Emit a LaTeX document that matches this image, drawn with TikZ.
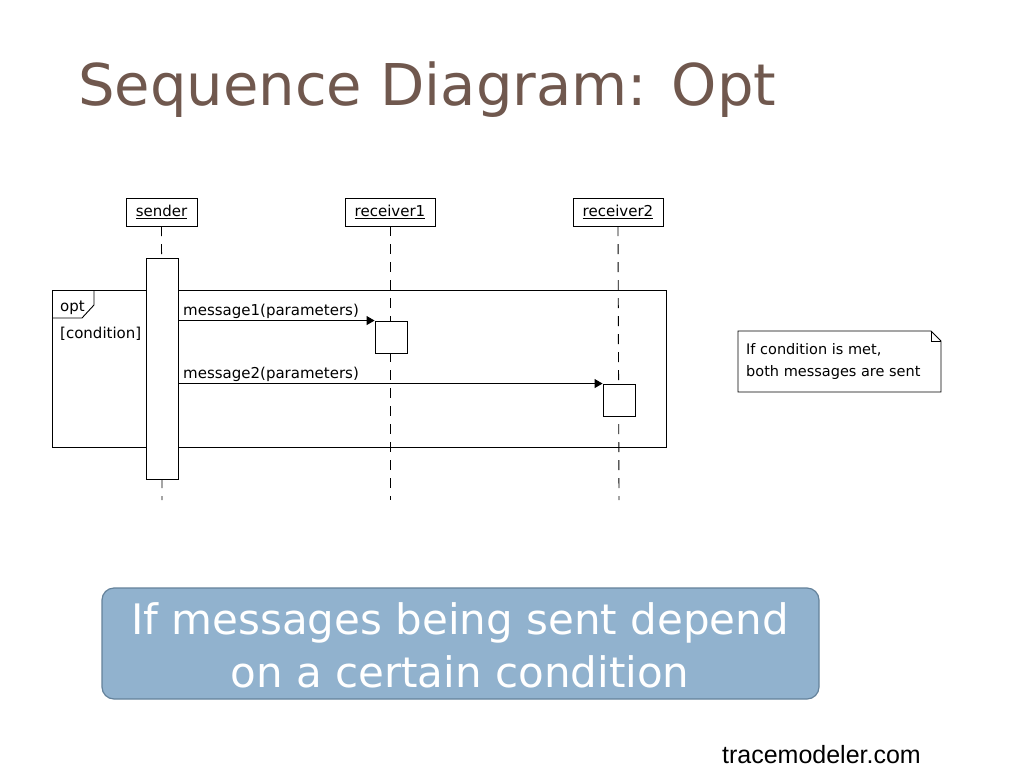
\documentclass[tikz,border=0pt]{standalone}
\usepackage{fontspec}
\setmainfont{Liberation Sans}
\newfontfamily\titlefont{DejaVu Sans}
\usetikzlibrary{arrows.meta}
\begin{document}
\begin{tikzpicture}[x=1pt,y=-1pt,
  life/.style={draw,fill=white,inner sep=0pt,minimum height=28pt,font=\titlefont\fontsize{15}{15}\selectfont},
  lifeline/.style={dash pattern=on 10pt off 8pt,line width=0.9pt},
  act/.style={draw,fill=white,line width=0.9pt},
  msg/.style={line width=0.9pt,-{Triangle[length=8pt,width=9pt]}},
  lbl/.style={font=\titlefont\fontsize{15}{15}\selectfont,anchor=south west,inner sep=1pt}]
\useasboundingbox (0,0) rectangle (1024,768);
\fill[white] (0,0) rectangle (1024,768);
\node[anchor=base west,inner sep=0pt,font=\titlefont\fontsize{57.6}{58}\selectfont,text={rgb,255:red,112;green,88;blue,78}] (title) at (78,105) {Sequence Diagram: Opt};
\node[life,minimum width=71pt] (s) at (161.5,212) {\underline{sender}};
\node[life,minimum width=90pt] (r1) at (390,212) {\underline{receiver1}};
\node[life,minimum width=90pt] (r2) at (618,212) {\underline{receiver2}};
\coordinate (se) at (162,500); \coordinate (r1e) at (390,500); \coordinate (r2e) at (619,500);
\draw[lifeline] (s.south) -- (se);
\draw[lifeline] (r1.south) -- (r1e);
\draw[lifeline] (r2.south) -- (r2e);
\draw[line width=0.9pt] (52,290) rectangle (666,447);
\draw[line width=0.9pt] (52,318) -- (82,318) -- (94,305) -- (94,290);
\node[lbl,anchor=base west] (opt) at (59,311) {opt};
\node[lbl,anchor=base west] (cond) at (59,338) {[condition]};
\node[act,minimum width=32pt,minimum height=221pt,inner sep=0pt] (as) at (162.5,368.5) {};
\node[act,minimum width=32pt,minimum height=32pt,inner sep=0pt] (a1) at (391,337) {};
\node[act,minimum width=32pt,minimum height=32pt,inner sep=0pt] (a2) at (619,400) {};
\draw[msg] (as.east |- a1.north west) -- (a1.north west);
\draw[msg] (as.east |- a2.north west) -- (a2.north west);
\node[lbl] (m1) at (182,320) {message1(parameters)};
\node[lbl] (m2) at (182,383) {message2(parameters)};
\draw[line width=0.9pt,fill=white] (738,331) -- (931,331) -- (941,341) -- (941,392) -- (738,392) -- cycle;
\draw[line width=0.9pt] (931,331) -- (931,341) -- (941,341);
\node[anchor=north west,align=left,inner sep=0pt,font=\titlefont\fontsize{14.5}{22}\selectfont] (note) at (746,343) {If condition is met,\\both messages are sent};
\draw[rounded corners=12pt,fill={rgb,255:red,145;green,178;blue,206},draw={rgb,255:red,100;green,130;blue,155},line width=1.2pt] (102,588) rectangle (819,699);
\node[align=center,text=white,font=\titlefont\fontsize{42}{53}\selectfont] (box) at (460,645) {If messages being sent depend\\on a certain condition};
\node[anchor=base east,inner sep=0pt,font=\fontsize{25}{25}\selectfont] (tm) at (921,763) {tracemodeler.com};
\end{tikzpicture}
\end{document}
